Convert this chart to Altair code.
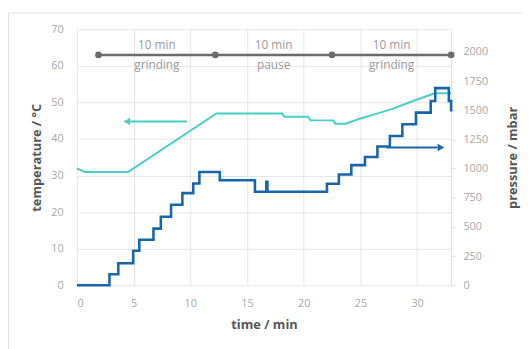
import altair as alt
import pandas as pd

# ---- data ----
press_t = [0.0, 2.87, 3.65, 4.96, 5.5, 6.75, 7.4, 8.3, 9.3, 10.26, 10.8, 12.6, 15.7,
           16.7, 16.8, 22.05, 23.1, 24.2, 25.4, 26.5, 27.6, 28.7, 29.9, 31.2, 31.6, 32.8, 33.0]
press_v = [0, 95, 190, 297, 390, 486, 587, 690, 790, 873, 971, 901, 802,
           887, 802, 870, 950, 1030, 1100, 1190, 1280, 1380, 1480, 1580, 1690, 1580, 1490]

temp_t = [0.0, 0.7, 4.5, 12.3, 18.1, 18.3, 20.4, 20.6, 22.6, 22.8, 23.7, 24.8, 26.3,
          27.7, 28.9, 30.0, 31.2, 31.5, 33.0]
temp_v = [32.0, 31.0, 31.0, 47.0, 47.0, 46.1, 46.1, 45.1, 45.1, 44.2, 44.2, 45.4, 46.8,
          48.1, 49.5, 50.8, 52.1, 52.5, 52.5]

phase_t = [1.9, 12.2, 22.5, 33.0]
phase_level = 63.0
phase_mid_t = [7.05, 17.35, 27.75]
phase_top = ["10 min", "10 min", "10 min"]
phase_bottom = ["grinding", "pause", "grinding"]
phase_top_level = 65.7
phase_bottom_level = 60.3

temp_arrow_t = [4.7, 9.7]
temp_arrow_head_t = 4.4
temp_arrow_level = 44.8
press_arrow_t = [27.3, 31.8]
press_arrow_head_t = 32.1
press_arrow_level = 1181

x_ticks = [0, 5, 10, 15, 20, 25, 30]
temp_ticks = [0, 10, 20, 30, 40, 50, 60, 70]
press_ticks = [0, 250, 500, 750, 1000, 1250, 1500, 1750, 2000]

# ---- tables ----
df_press = pd.DataFrame({"t": press_t, "v": press_v})
df_temp = pd.DataFrame({"t": temp_t, "v": temp_v})
df_phase = pd.DataFrame({"t": phase_t, "v": [phase_level] * len(phase_t)})
df_lab_top = pd.DataFrame({"t": phase_mid_t, "v": [phase_top_level] * 3, "txt": phase_top})
df_lab_bot = pd.DataFrame({"t": phase_mid_t, "v": [phase_bottom_level] * 3, "txt": phase_bottom})
df_tarrow = pd.DataFrame({"t": [temp_arrow_t[0]], "t2": [temp_arrow_t[1]], "v": [temp_arrow_level]})
df_thead = pd.DataFrame({"t": [temp_arrow_head_t], "v": [temp_arrow_level]})
df_parrow = pd.DataFrame({"t": [press_arrow_t[0]], "t2": [press_arrow_t[1]], "v": [press_arrow_level]})
df_phead = pd.DataFrame({"t": [press_arrow_head_t], "v": [press_arrow_level]})

FONT = "Open Sans"
LABEL_C = "#a8a8a8"
TITLE_C = "#555555"
GRID_C = "#e6e6e6"
TEMP_C = "#45cfc6"
PRESS_C = "#1766ab"
PHASE_C = "#6b6b6b"

x_axis = alt.Axis(values=x_ticks, title="time / min", grid=True, gridColor=GRID_C,
                  domain=False, ticks=False, labelColor=LABEL_C, labelFontSize=11,
                  labelPadding=12, labelFont=FONT, titleFont=FONT, titleFontSize=13,
                  titleFontWeight="bold", titleColor=TITLE_C, titleX=190, titleY=40,
                  titleBaseline="middle", titleAlign="center")
x_scale = alt.Scale(domain=[0, 33], nice=False, zero=False)

temp_axis = alt.Axis(values=temp_ticks, title="temperature / °C", grid=True, gridColor=GRID_C,
                     domain=False, ticks=False, labelColor=LABEL_C, labelFontSize=11,
                     labelPadding=14, labelFont=FONT, titleFont=FONT, titleFontSize=13,
                     titleFontWeight="bold", titleColor=TITLE_C, titleX=-41, titleY=130,
                     titleAngle=270, titleAlign="center", titleBaseline="middle")
temp_scale = alt.Scale(domain=[0, 70], nice=False)

press_axis = alt.Axis(values=press_ticks, format="d", title="pressure / mbar", orient="right",
                      grid=False, domain=True, domainColor="#dddddd", ticks=True,
                      tickColor="#dddddd", tickSize=4, labelColor=LABEL_C, labelFontSize=11,
                      labelPadding=8, labelFont=FONT, titleFont=FONT, titleFontSize=13,
                      titleFontWeight="bold", titleColor=TITLE_C, titleX=62, titleY=130,
                      titleAngle=270, titleAlign="center", titleBaseline="middle")
press_scale = alt.Scale(domain=[0, 2194], nice=False)


def X(f="t"):
    return alt.X(f, type="quantitative", scale=x_scale, axis=x_axis)


def YT(f="v"):
    return alt.Y(f, type="quantitative", scale=temp_scale, axis=temp_axis)


def YP(f="v"):
    return alt.Y(f, type="quantitative", scale=press_scale, axis=press_axis)


temp_line = alt.Chart(df_temp).mark_line(color=TEMP_C, strokeWidth=2).encode(x=X(), y=YT())
phase_line = alt.Chart(df_phase).mark_line(color=PHASE_C, strokeWidth=2.5).encode(x=X(), y=YT())
phase_dots = alt.Chart(df_phase).mark_point(filled=True, color=PHASE_C, size=45, opacity=1).encode(x=X(), y=YT())
lab_top = alt.Chart(df_lab_top).mark_text(color="#9a9a9a", fontSize=12, font=FONT,
                                          baseline="middle").encode(x=X(), y=YT(), text="txt:N")
lab_bot = alt.Chart(df_lab_bot).mark_text(color="#9a9a9a", fontSize=12, font=FONT,
                                          baseline="middle").encode(x=X(), y=YT(), text="txt:N")
t_arrow = alt.Chart(df_tarrow).mark_rule(color=TEMP_C, strokeWidth=2).encode(
    x=X(), x2="t2", y=YT())
t_head = alt.Chart(df_thead).mark_point(shape="triangle-left", filled=True, color=TEMP_C,
                                        size=60, opacity=1).encode(x=X(), y=YT())

frame_left = alt.Chart(df_thead).mark_rule(color="#e2e2e2", strokeWidth=1).encode(
    x=alt.value(-69.5), y=alt.value(-17), y2=alt.value(340))
frame_top = alt.Chart(df_thead).mark_rule(color="#e2e2e2", strokeWidth=1).encode(
    x=alt.value(-69.5), x2=alt.value(455), y=alt.value(-16.5))

temp_layer = alt.layer(frame_left, frame_top, temp_line, phase_line, phase_dots,
                       lab_top, lab_bot, t_arrow, t_head)

press_line = alt.Chart(df_press).mark_line(color=PRESS_C, strokeWidth=2.6,
                                           interpolate="step-after").encode(x=X(), y=YP())
p_arrow = alt.Chart(df_parrow).mark_rule(color=PRESS_C, strokeWidth=2).encode(
    x=X(), x2="t2", y=YP())
p_head = alt.Chart(df_phead).mark_point(shape="triangle-right", filled=True, color=PRESS_C,
                                        size=60, opacity=1).encode(x=X(), y=YP())

press_layer = alt.layer(press_line, p_arrow, p_head)

chart = alt.layer(temp_layer, press_layer).resolve_scale(y="independent").properties(
    width=380, height=260,
    autosize=alt.AutoSizeParams(type="none"),
    padding={"left": 70, "top": 19, "right": 73, "bottom": 62},
    background="white",
).configure_view(stroke=None)

chart.save("out.html", embed_options={"renderer": "svg", "actions": False})
